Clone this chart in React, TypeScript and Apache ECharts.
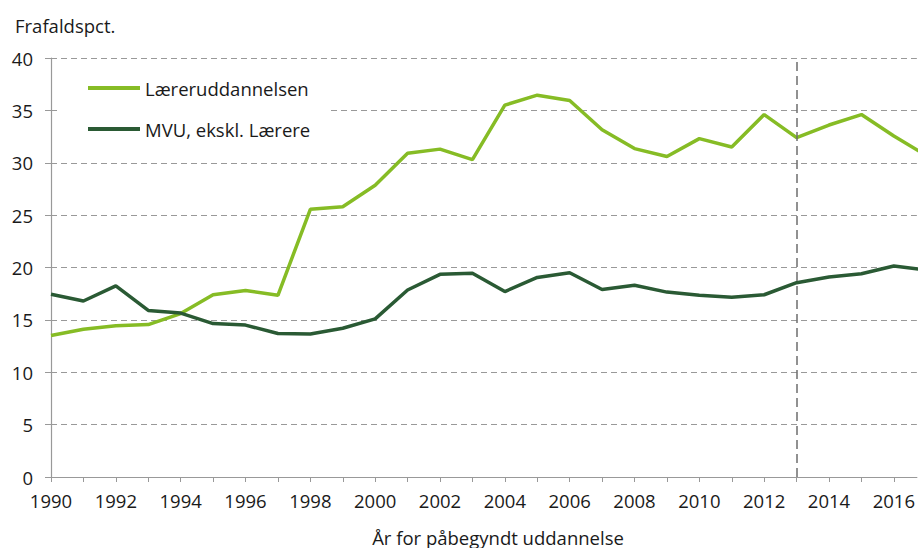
import React, { useEffect, useRef } from "react";
import * as echarts from "echarts";

const years = [1990, 1991, 1992, 1993, 1994, 1995, 1996, 1997, 1998, 1999, 2000, 2001, 2002, 2003, 2004, 2005, 2006, 2007, 2008, 2009, 2010, 2011, 2012, 2013, 2014, 2015, 2016, 2017];
const laerer = [13.5, 14.1, 14.45, 14.55, 15.6, 17.4, 17.8, 17.35, 25.55, 25.8, 27.85, 30.9, 31.3, 30.3, 35.5, 36.45, 35.95, 33.15, 31.35, 30.6, 32.3, 31.5, 34.6, 32.4, 33.6, 34.6, 32.55, 30.7];
const mvu = [17.45, 16.8, 18.25, 15.9, 15.65, 14.65, 14.5, 13.7, 13.65, 14.2, 15.1, 17.85, 19.35, 19.45, 17.7, 19.05, 19.5, 17.9, 18.3, 17.65, 17.35, 17.15, 17.4, 18.55, 19.1, 19.4, 20.15, 19.75];
const seriesNames = ["Læreruddannelsen", "MVU, ekskl. Lærere"];
const tickYears = years.slice(0, 27);
const labelYears = tickYears.filter((y) => y % 2 === 0);
const markYear = 2013;

const FONT = "'Open Sans', sans-serif";
const TXT = "#1a1a1a";
const FS = 18.5;

export default function App() {
  const ref = useRef<HTMLDivElement>(null);
  useEffect(() => {
    if (!ref.current) return;
    const chart = echarts.init(ref.current, undefined, { renderer: "svg" });
    chart.setOption({
      animation: false,
      textStyle: { fontFamily: FONT },
      grid: { left: 51, right: 1, top: 58, bottom: 71, containLabel: false },
      legend: {
        orient: "vertical",
        left: 60,
        top: 70,
        padding: [8, 20, 8, 28],
        backgroundColor: "#ffffff",
        itemGap: 21,
        itemWidth: 52,
        itemHeight: 4,
        icon: "rect",
        textStyle: { fontSize: FS, color: TXT, fontFamily: FONT, lineHeight: 20 },
        data: seriesNames,
      },
      xAxis: {
        type: "value",
        min: 1990,
        max: 2016.71,
        interval: 1,
        axisLine: { show: true, lineStyle: { color: "#999", width: 1.2 } },
        axisTick: { show: true, length: 5, lineStyle: { color: "#999" }, customValues: tickYears },
        axisLabel: {
          customValues: labelYears,
          fontSize: FS,
          color: TXT,
          fontFamily: FONT,
          margin: 14,
          formatter: (v: number) => String(v),
        },
        splitLine: { show: false },
      },
      yAxis: {
        type: "value",
        min: 0,
        max: 40,
        interval: 5,
        axisLine: { show: true, lineStyle: { color: "#999", width: 1.2 } },
        axisTick: { show: true, length: 6, lineStyle: { color: "#999" } },
        axisLabel: { fontSize: FS, color: TXT, fontFamily: FONT, margin: 18 },
        splitLine: { show: true, lineStyle: { type: [6, 4], color: "#999", width: 1.2 } },
      },
      graphic: [
        {
          type: "text",
          x: 15,
          y: 25,
          style: { text: "Frafaldspct.", fontSize: FS, fontFamily: FONT, fill: TXT, verticalAlign: "middle", align: "left" },
        },
        {
          type: "text",
          x: 498,
          y: 537,
          style: { text: "År for påbegyndt uddannelse", fontSize: FS, fontFamily: FONT, fill: TXT, verticalAlign: "middle", align: "center" },
        },
      ],
      series: [
        {
          name: seriesNames[0],
          type: "line",
          symbol: "none",
          clip: true,
          data: years.map((y, i) => [y, laerer[i]]),
          lineStyle: { color: "#86bc25", width: 3.5 },
          itemStyle: { color: "#86bc25" },
          markLine: {
            silent: true,
            symbol: "none",
            label: { show: false },
            lineStyle: { type: [9, 5], color: "#6e6e6e", width: 1.5 },
            data: [{ xAxis: markYear }],
          },
        },
        {
          name: seriesNames[1],
          type: "line",
          symbol: "none",
          clip: true,
          data: years.map((y, i) => [y, mvu[i]]),
          lineStyle: { color: "#2a5a34", width: 3.5 },
          itemStyle: { color: "#2a5a34" },
        },
      ],
    });
    return () => chart.dispose();
  }, []);
  return (
    <div
      ref={ref}
      style={{ position: "fixed", left: 0, top: 0, width: 918, height: 548, background: "#fff" }}
    />
  );
}
